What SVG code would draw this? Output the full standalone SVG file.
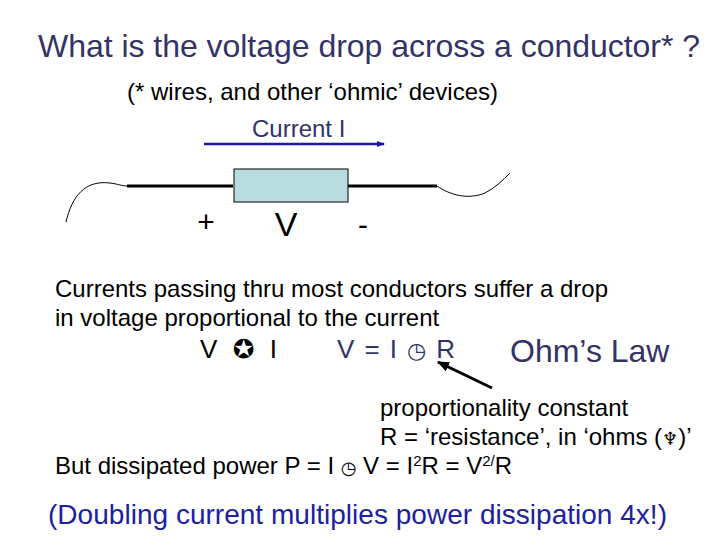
<svg xmlns="http://www.w3.org/2000/svg" width="720" height="540" viewBox="0 0 720 540">
<style>
text{font-family:"Liberation Sans",Arial,"DejaVu Sans",sans-serif;fill:#000}
.n{fill:#333366}
.b{font-size:24px}
</style>
<defs>
<marker id="ab" markerWidth="8" markerHeight="8" refX="7" refY="4" orient="auto" markerUnits="userSpaceOnUse"><path d="M0,1 L8,4 L0,7 Z" fill="#1a1aa0"/></marker>
<marker id="ak" markerWidth="12" markerHeight="10" refX="11" refY="5" orient="auto" markerUnits="userSpaceOnUse"><path d="M0,0 L12,5 L0,10 Z" fill="#000"/></marker>
</defs>
<rect width="720" height="540" fill="#fff"/>
<text x="38" y="57" font-size="32" class="n" textLength="662">What is the voltage drop across a conductor* ?</text>
<text x="127" y="100" class="b" textLength="371">(* wires, and other ‘ohmic’ devices)</text>
<g id="current"><text x="252" y="137" class="b n">Current I</text></g>
<g id="connectors">
<line x1="204" y1="144" x2="384" y2="144" stroke="#1a1aa0" stroke-width="2.5" marker-end="url(#ab)"/>
<line x1="127" y1="186" x2="233" y2="186" stroke="#000" stroke-width="3"/>
<line x1="348" y1="186" x2="437" y2="186" stroke="#000" stroke-width="3"/>
<path d="M66,222 C72,196 85,180 110,183 C118,184 122,186 127,186" fill="none" stroke="#000" stroke-width="1"/>
<path d="M437,186 C450,195 468,200 485,193 C495,188 503,180 510,173" fill="none" stroke="#000" stroke-width="1"/>
<line x1="492" y1="388" x2="438" y2="362" stroke="#000" stroke-width="3" marker-end="url(#ak)"/>
</g>
<g id="resistor"><rect x="234" y="169" width="114" height="33" fill="#b7dde0" stroke="#000" stroke-width="1"/></g>
<text x="206" y="232" font-size="30" text-anchor="middle">+</text>
<text x="286" y="236" font-size="34" text-anchor="middle">V</text>
<text x="363" y="235" font-size="30" text-anchor="middle">-</text>
<text x="55" y="297" class="b" textLength="553">Currents passing thru most conductors suffer a drop</text>
<text x="55" y="326" class="b">in voltage proportional to the current</text>
<text x="200" y="358" font-size="26" textLength="77">V <tspan font-family="DejaVu Sans">✪</tspan> I</text>
<text x="337" y="358" font-size="26" class="n" textLength="118">V = I <tspan font-family="DejaVu Sans" font-size="22">◷</tspan> R</text>
<text x="510" y="362" font-size="32" class="n">Ohm’s Law</text>
<text x="380" y="416" class="b">proportionality constant</text>
<text x="380" y="445" class="b">R = ‘resistance’, in ‘ohms (<tspan font-family="DejaVu Sans" font-size="18">♆</tspan>)’</text>
<text x="55" y="474" class="b">But dissipated power P = I <tspan font-family="DejaVu Sans" font-size="18">◷</tspan> V = I<tspan font-size="15" dy="-8">2</tspan><tspan dy="8">R = V</tspan><tspan font-size="15" dy="-8">2/</tspan><tspan dy="8">R</tspan></text>
<text x="48" y="524" font-size="28" style="fill:#2020a0" textLength="619">(Doubling current multiplies power dissipation 4x!)</text>
</svg>
